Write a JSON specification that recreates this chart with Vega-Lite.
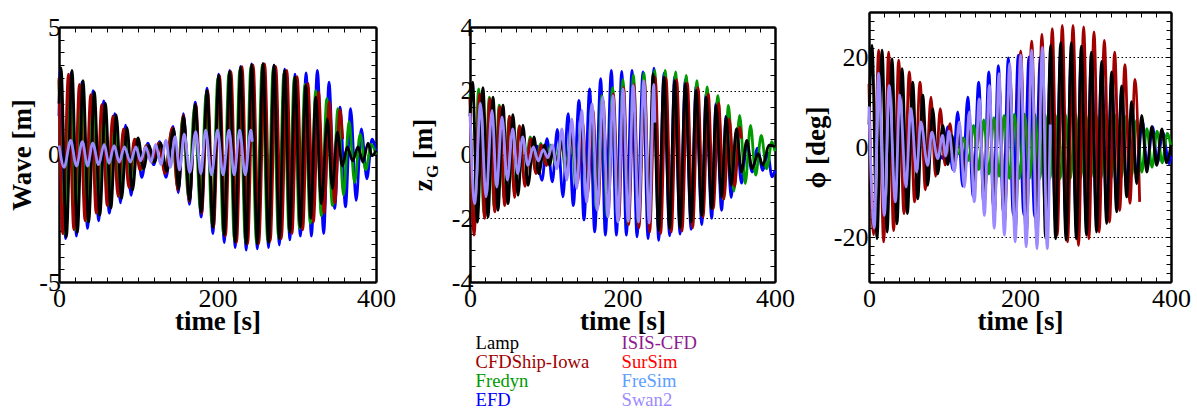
{
"$schema": "https://vega.github.io/schema/vega-lite/v6.json",
"padding": {"left": 8, "top": 11, "right": 5, "bottom": 0},
"bounds": "flush",
"spacing": 94,
"config": {
 "view": {"stroke": null},
 "font": "Liberation Serif",
 "axis": {"labelFont": "Liberation Serif", "labelFontSize": 26, "labelColor": "black", "titleFont": "Liberation Serif", "titleFontSize": 27, "titleFontWeight": "bold", "titleColor": "black", "tickColor": "black", "tickSize": -5, "tickWidth": 1, "domainColor": "black", "domainWidth": 2.5, "grid": false, "labelOverlap": false, "labelBound": false, "labelFlush": false}
},
"resolve": {"scale": {"color": "shared"}, "legend": {"color": "shared"}},
"datasets": {
"wave": [
{"s":"EFD","t":0,"v":1.5},{"s":"EFD","t":1.5,"v":3.3},{"s":"EFD","t":8.3,"v":-3.3},{"s":"EFD","t":15.2,"v":3.2},{"s":"EFD","t":22,"v":-3.2},{"s":"EFD","t":29,"v":2.85},{"s":"EFD","t":36,"v":-2.9},{"s":"EFD","t":43,"v":2.5},{"s":"EFD","t":50,"v":-2.6},{"s":"EFD","t":56.5,"v":2.1},{"s":"EFD","t":63.5,"v":-2.3},{"s":"EFD","t":70.5,"v":1.6},{"s":"EFD","t":77.5,"v":-1.9},{"s":"EFD","t":84,"v":1.15},{"s":"EFD","t":91,"v":-1.6},{"s":"EFD","t":97.5,"v":0.6},{"s":"EFD","t":104.5,"v":-0.9},{"s":"EFD","t":112,"v":0.45},{"s":"EFD","t":119.5,"v":-0.4},{"s":"EFD","t":127,"v":0.5},{"s":"EFD","t":135,"v":-0.9},{"s":"EFD","t":144,"v":1.1},{"s":"EFD","t":150.5,"v":-1.5},{"s":"EFD","t":157,"v":1.6},{"s":"EFD","t":164.5,"v":-1.95},{"s":"EFD","t":172,"v":2.05},{"s":"EFD","t":179.4,"v":-2.45},{"s":"EFD","t":186.8,"v":2.6},{"s":"EFD","t":194.2,"v":-3.1},{"s":"EFD","t":201.5,"v":3.15},{"s":"EFD","t":208.5,"v":-3.45},{"s":"EFD","t":215.4,"v":3.3},{"s":"EFD","t":222.3,"v":-3.65},{"s":"EFD","t":229.2,"v":3.45},{"s":"EFD","t":236.2,"v":-3.75},{"s":"EFD","t":243.1,"v":3.55},{"s":"EFD","t":250.2,"v":-3.7},{"s":"EFD","t":257.4,"v":3.56},{"s":"EFD","t":264.4,"v":-3.65},{"s":"EFD","t":271.3,"v":3.5},{"s":"EFD","t":278,"v":-3.55},{"s":"EFD","t":284.8,"v":3.35},{"s":"EFD","t":291.3,"v":-3.35},{"s":"EFD","t":297.8,"v":3.15},{"s":"EFD","t":304.5,"v":-3.2},{"s":"EFD","t":311.8,"v":3.2},{"s":"EFD","t":318.5,"v":-3.2},{"s":"EFD","t":326,"v":3.3},{"s":"EFD","t":334,"v":-3.1},{"s":"EFD","t":340.7,"v":2.84},{"s":"EFD","t":347.8,"v":-2.12},{"s":"EFD","t":354.6,"v":1.86},{"s":"EFD","t":361.5,"v":-2.05},{"s":"EFD","t":368,"v":1.8},{"s":"EFD","t":375,"v":-1.8},{"s":"EFD","t":381.5,"v":1.0},{"s":"EFD","t":388.5,"v":-0.95},{"s":"EFD","t":395,"v":0.6},{"s":"EFD","t":400,"v":0.1},
{"s":"Fredyn","t":0,"v":2.9},{"s":"Fredyn","t":6.3,"v":-3.1},{"s":"Fredyn","t":13.4,"v":3.0},{"s":"Fredyn","t":20.2,"v":-2.95},{"s":"Fredyn","t":27.3,"v":2.7},{"s":"Fredyn","t":34.4,"v":-2.6},{"s":"Fredyn","t":41.6,"v":2.3},{"s":"Fredyn","t":48.5,"v":-2.25},{"s":"Fredyn","t":55.5,"v":1.85},{"s":"Fredyn","t":62.4,"v":-1.95},{"s":"Fredyn","t":69.3,"v":1.45},{"s":"Fredyn","t":76,"v":-1.6},{"s":"Fredyn","t":82.8,"v":0.95},{"s":"Fredyn","t":89.7,"v":-1.2},{"s":"Fredyn","t":96.7,"v":0.6},{"s":"Fredyn","t":103.7,"v":-0.6},{"s":"Fredyn","t":111,"v":0.35},{"s":"Fredyn","t":118,"v":-0.3},{"s":"Fredyn","t":126,"v":0.45},{"s":"Fredyn","t":134,"v":-0.6},{"s":"Fredyn","t":142.5,"v":0.95},{"s":"Fredyn","t":149.5,"v":-1.25},{"s":"Fredyn","t":156,"v":1.45},{"s":"Fredyn","t":163.5,"v":-1.7},{"s":"Fredyn","t":171,"v":1.9},{"s":"Fredyn","t":178.4,"v":-2.15},{"s":"Fredyn","t":185.8,"v":2.4},{"s":"Fredyn","t":193.2,"v":-2.75},{"s":"Fredyn","t":200.5,"v":3.0},{"s":"Fredyn","t":207.5,"v":-3.1},{"s":"Fredyn","t":214.4,"v":3.2},{"s":"Fredyn","t":221.3,"v":-3.35},{"s":"Fredyn","t":228.2,"v":3.35},{"s":"Fredyn","t":235.2,"v":-3.4},{"s":"Fredyn","t":242.1,"v":3.45},{"s":"Fredyn","t":249.2,"v":-3.45},{"s":"Fredyn","t":256.4,"v":3.5},{"s":"Fredyn","t":263.4,"v":-3.4},{"s":"Fredyn","t":270.3,"v":3.4},{"s":"Fredyn","t":277,"v":-3.25},{"s":"Fredyn","t":283.8,"v":3.2},{"s":"Fredyn","t":290.3,"v":-3.0},{"s":"Fredyn","t":296.8,"v":3.0},{"s":"Fredyn","t":303.5,"v":-2.9},{"s":"Fredyn","t":310.3,"v":2.75},{"s":"Fredyn","t":317,"v":-2.7},{"s":"Fredyn","t":324,"v":2.5},{"s":"Fredyn","t":331,"v":-2.4},{"s":"Fredyn","t":338,"v":2.2},{"s":"Fredyn","t":345,"v":-2.0},{"s":"Fredyn","t":352,"v":1.8},{"s":"Fredyn","t":359,"v":-1.6},{"s":"Fredyn","t":366,"v":1.3},{"s":"Fredyn","t":373,"v":-1.1},{"s":"Fredyn","t":380,"v":0.8},{"s":"Fredyn","t":387,"v":-0.6},{"s":"Fredyn","t":394,"v":0.4},{"s":"Fredyn","t":400,"v":0.0},
{"s":"CFDShip-Iowa","t":0,"v":3.0},{"s":"CFDShip-Iowa","t":4.8,"v":-3.1},{"s":"CFDShip-Iowa","t":11.9,"v":3.15},{"s":"CFDShip-Iowa","t":18.7,"v":-2.95},{"s":"CFDShip-Iowa","t":25.8,"v":2.75},{"s":"CFDShip-Iowa","t":32.9,"v":-2.6},{"s":"CFDShip-Iowa","t":40.1,"v":2.35},{"s":"CFDShip-Iowa","t":47,"v":-2.3},{"s":"CFDShip-Iowa","t":54,"v":1.95},{"s":"CFDShip-Iowa","t":60.9,"v":-2.0},{"s":"CFDShip-Iowa","t":67.8,"v":1.5},{"s":"CFDShip-Iowa","t":74.5,"v":-1.65},{"s":"CFDShip-Iowa","t":81.3,"v":1.0},{"s":"CFDShip-Iowa","t":88.2,"v":-1.3},{"s":"CFDShip-Iowa","t":95.2,"v":0.6},{"s":"CFDShip-Iowa","t":102.2,"v":-0.6},{"s":"CFDShip-Iowa","t":110,"v":0.35},{"s":"CFDShip-Iowa","t":117.5,"v":-0.3},{"s":"CFDShip-Iowa","t":125.5,"v":0.45},{"s":"CFDShip-Iowa","t":134,"v":-0.75},{"s":"CFDShip-Iowa","t":143,"v":1.05},{"s":"CFDShip-Iowa","t":150,"v":-1.4},{"s":"CFDShip-Iowa","t":157,"v":1.55},{"s":"CFDShip-Iowa","t":164.5,"v":-1.85},{"s":"CFDShip-Iowa","t":172.5,"v":1.95},{"s":"CFDShip-Iowa","t":180,"v":-2.3},{"s":"CFDShip-Iowa","t":187.5,"v":2.5},{"s":"CFDShip-Iowa","t":195,"v":-2.85},{"s":"CFDShip-Iowa","t":202.5,"v":3.1},{"s":"CFDShip-Iowa","t":210,"v":-3.2},{"s":"CFDShip-Iowa","t":217,"v":3.25},{"s":"CFDShip-Iowa","t":224,"v":-3.45},{"s":"CFDShip-Iowa","t":231,"v":3.45},{"s":"CFDShip-Iowa","t":238,"v":-3.5},{"s":"CFDShip-Iowa","t":245,"v":3.5},{"s":"CFDShip-Iowa","t":252,"v":-3.5},{"s":"CFDShip-Iowa","t":259.5,"v":3.55},{"s":"CFDShip-Iowa","t":266.5,"v":-3.4},{"s":"CFDShip-Iowa","t":273.5,"v":3.45},{"s":"CFDShip-Iowa","t":280.5,"v":-3.3},{"s":"CFDShip-Iowa","t":287.5,"v":3.3},{"s":"CFDShip-Iowa","t":294,"v":-3.1},{"s":"CFDShip-Iowa","t":300.5,"v":3.05},{"s":"CFDShip-Iowa","t":307.5,"v":-2.95},{"s":"CFDShip-Iowa","t":314,"v":2.8},{"s":"CFDShip-Iowa","t":321,"v":-2.65},{"s":"CFDShip-Iowa","t":327.5,"v":2.45},{"s":"CFDShip-Iowa","t":334.5,"v":-2.3},{"s":"CFDShip-Iowa","t":341,"v":2.06},{"s":"CFDShip-Iowa","t":348,"v":-1.9},{"s":"CFDShip-Iowa","t":354.5,"v":1.75},{"s":"CFDShip-Iowa","t":358,"v":0.6},
{"s":"Lamp","t":0,"v":2.0},{"s":"Lamp","t":2.5,"v":3.4},{"s":"Lamp","t":9.3,"v":-3.24},{"s":"Lamp","t":16.4,"v":3.3},{"s":"Lamp","t":23.2,"v":-3.05},{"s":"Lamp","t":30.3,"v":2.9},{"s":"Lamp","t":37.4,"v":-2.65},{"s":"Lamp","t":44.6,"v":2.45},{"s":"Lamp","t":51.5,"v":-2.38},{"s":"Lamp","t":58.5,"v":2.0},{"s":"Lamp","t":65.4,"v":-2.1},{"s":"Lamp","t":72.3,"v":1.55},{"s":"Lamp","t":79,"v":-1.73},{"s":"Lamp","t":85.8,"v":1.05},{"s":"Lamp","t":92.7,"v":-1.4},{"s":"Lamp","t":99.7,"v":0.65},{"s":"Lamp","t":106.7,"v":-0.55},{"s":"Lamp","t":113.5,"v":0.35},{"s":"Lamp","t":120.5,"v":-0.3},{"s":"Lamp","t":128,"v":0.45},{"s":"Lamp","t":136,"v":-0.65},{"s":"Lamp","t":144.7,"v":1.0},{"s":"Lamp","t":151,"v":-1.35},{"s":"Lamp","t":157.3,"v":1.5},{"s":"Lamp","t":164.7,"v":-1.8},{"s":"Lamp","t":172,"v":1.95},{"s":"Lamp","t":179.4,"v":-2.25},{"s":"Lamp","t":186.8,"v":2.5},{"s":"Lamp","t":194.2,"v":-2.85},{"s":"Lamp","t":201.5,"v":3.1},{"s":"Lamp","t":208.5,"v":-3.16},{"s":"Lamp","t":215.4,"v":3.26},{"s":"Lamp","t":222.3,"v":-3.43},{"s":"Lamp","t":229.2,"v":3.43},{"s":"Lamp","t":236.2,"v":-3.5},{"s":"Lamp","t":243.1,"v":3.52},{"s":"Lamp","t":250.2,"v":-3.5},{"s":"Lamp","t":257.4,"v":3.56},{"s":"Lamp","t":264.4,"v":-3.45},{"s":"Lamp","t":271.3,"v":3.5},{"s":"Lamp","t":278,"v":-3.3},{"s":"Lamp","t":284.8,"v":3.3},{"s":"Lamp","t":291.3,"v":-3.05},{"s":"Lamp","t":297.8,"v":3.04},{"s":"Lamp","t":304.5,"v":-2.85},{"s":"Lamp","t":311.3,"v":2.71},{"s":"Lamp","t":317.6,"v":-2.5},{"s":"Lamp","t":323.9,"v":2.25},{"s":"Lamp","t":331.2,"v":-1.93},{"s":"Lamp","t":338.6,"v":1.4},{"s":"Lamp","t":345,"v":-1.34},{"s":"Lamp","t":351.2,"v":0.88},{"s":"Lamp","t":357.5,"v":-0.45},{"s":"Lamp","t":363.8,"v":0.3},{"s":"Lamp","t":370.5,"v":-0.25},{"s":"Lamp","t":377.3,"v":0.3},{"s":"Lamp","t":383.6,"v":-0.3},{"s":"Lamp","t":389.9,"v":0.45},{"s":"Lamp","t":395,"v":-0.05},{"s":"Lamp","t":400,"v":0.15},
{"s":"Swan2","t":0,"v":0.35},{"s":"Swan2","t":6.5,"v":-0.5},{"s":"Swan2","t":14.7,"v":0.55},{"s":"Swan2","t":22,"v":-0.45},{"s":"Swan2","t":29.5,"v":0.5},{"s":"Swan2","t":36,"v":-0.45},{"s":"Swan2","t":42.5,"v":0.45},{"s":"Swan2","t":50,"v":-0.4},{"s":"Swan2","t":57,"v":0.4},{"s":"Swan2","t":63,"v":-0.35},{"s":"Swan2","t":69.5,"v":0.35},{"s":"Swan2","t":76,"v":-0.3},{"s":"Swan2","t":82.5,"v":0.3},{"s":"Swan2","t":90,"v":-0.3},{"s":"Swan2","t":97,"v":0.3},{"s":"Swan2","t":103,"v":-0.25},{"s":"Swan2","t":109.5,"v":0.3},{"s":"Swan2","t":116,"v":-0.3},{"s":"Swan2","t":122,"v":0.4},{"s":"Swan2","t":128.5,"v":-0.4},{"s":"Swan2","t":135,"v":0.55},{"s":"Swan2","t":140.5,"v":-0.5},{"s":"Swan2","t":146.5,"v":0.7},{"s":"Swan2","t":152,"v":-0.6},{"s":"Swan2","t":158,"v":0.8},{"s":"Swan2","t":165,"v":-0.7},{"s":"Swan2","t":172.5,"v":0.9},{"s":"Swan2","t":179,"v":-0.75},{"s":"Swan2","t":185,"v":0.95},{"s":"Swan2","t":192.5,"v":-0.8},{"s":"Swan2","t":200,"v":0.95},{"s":"Swan2","t":207,"v":-0.8},{"s":"Swan2","t":214.5,"v":0.95},{"s":"Swan2","t":221,"v":-0.8},{"s":"Swan2","t":228,"v":0.95},{"s":"Swan2","t":235,"v":-0.8},{"s":"Swan2","t":242,"v":0.95},{"s":"Swan2","t":244,"v":0.5}
],
"zg": [
{"s":"EFD","t":88,"v":0.3},{"s":"EFD","t":94.4,"v":-0.81},{"s":"EFD","t":101,"v":0.5},{"s":"EFD","t":108,"v":-0.86},{"s":"EFD","t":114.5,"v":0.79},{"s":"EFD","t":122,"v":-1.33},{"s":"EFD","t":128.5,"v":1.28},{"s":"EFD","t":135.5,"v":-1.6},{"s":"EFD","t":142.9,"v":1.7},{"s":"EFD","t":149.5,"v":-2.06},{"s":"EFD","t":156.9,"v":2.06},{"s":"EFD","t":163.5,"v":-2.43},{"s":"EFD","t":171.4,"v":2.38},{"s":"EFD","t":177.5,"v":-2.53},{"s":"EFD","t":185.4,"v":2.64},{"s":"EFD","t":192,"v":-2.53},{"s":"EFD","t":199,"v":2.61},{"s":"EFD","t":205,"v":-2.53},{"s":"EFD","t":212.5,"v":2.64},{"s":"EFD","t":219,"v":-2.58},{"s":"EFD","t":226.9,"v":2.59},{"s":"EFD","t":233.5,"v":-2.64},{"s":"EFD","t":241.3,"v":2.71},{"s":"EFD","t":247.4,"v":-2.69},{"s":"EFD","t":254.4,"v":2.55},{"s":"EFD","t":261.8,"v":-2.55},{"s":"EFD","t":268.4,"v":2.45},{"s":"EFD","t":275.5,"v":-2.5},{"s":"EFD","t":282.4,"v":2.35},{"s":"EFD","t":290,"v":-2.35},{"s":"EFD","t":296.5,"v":2.15},{"s":"EFD","t":304,"v":-2.2},{"s":"EFD","t":309.6,"v":1.9},{"s":"EFD","t":317,"v":-2.0},{"s":"EFD","t":322.7,"v":1.6},{"s":"EFD","t":330,"v":-1.75},{"s":"EFD","t":335.9,"v":1.2},{"s":"EFD","t":342.5,"v":-1.35},{"s":"EFD","t":349.5,"v":0.75},{"s":"EFD","t":356,"v":-0.9},{"s":"EFD","t":363,"v":0.3},{"s":"EFD","t":370,"v":-0.55},{"s":"EFD","t":377,"v":0.2},{"s":"EFD","t":384,"v":-0.5},{"s":"EFD","t":390.5,"v":0.05},{"s":"EFD","t":396,"v":-0.7},{"s":"EFD","t":400,"v":-0.5},
{"s":"Fredyn","t":0,"v":1.9},{"s":"Fredyn","t":4.5,"v":-2.05},{"s":"Fredyn","t":11.4,"v":2.06},{"s":"Fredyn","t":18.5,"v":-1.85},{"s":"Fredyn","t":25.4,"v":1.8},{"s":"Fredyn","t":31.8,"v":-1.65},{"s":"Fredyn","t":38.3,"v":1.55},{"s":"Fredyn","t":45,"v":-1.4},{"s":"Fredyn","t":51.4,"v":1.2},{"s":"Fredyn","t":58,"v":-1.1},{"s":"Fredyn","t":64.5,"v":0.9},{"s":"Fredyn","t":71.5,"v":-0.8},{"s":"Fredyn","t":79,"v":0.55},{"s":"Fredyn","t":86,"v":-0.5},{"s":"Fredyn","t":93,"v":0.35},{"s":"Fredyn","t":99.5,"v":-0.3},{"s":"Fredyn","t":106,"v":0.3},{"s":"Fredyn","t":112.5,"v":-0.35},{"s":"Fredyn","t":119,"v":0.45},{"s":"Fredyn","t":126,"v":-0.55},{"s":"Fredyn","t":132.5,"v":0.75},{"s":"Fredyn","t":139,"v":-0.95},{"s":"Fredyn","t":146,"v":1.15},{"s":"Fredyn","t":153,"v":-1.35},{"s":"Fredyn","t":159.5,"v":1.5},{"s":"Fredyn","t":166,"v":-1.7},{"s":"Fredyn","t":173,"v":1.85},{"s":"Fredyn","t":180,"v":-1.95},{"s":"Fredyn","t":187,"v":2.1},{"s":"Fredyn","t":194,"v":-2.1},{"s":"Fredyn","t":200.5,"v":2.35},{"s":"Fredyn","t":207.5,"v":-2.2},{"s":"Fredyn","t":214.3,"v":2.5},{"s":"Fredyn","t":221,"v":-2.25},{"s":"Fredyn","t":228.2,"v":2.55},{"s":"Fredyn","t":235,"v":-2.25},{"s":"Fredyn","t":242.2,"v":2.64},{"s":"Fredyn","t":249,"v":-2.3},{"s":"Fredyn","t":256,"v":2.64},{"s":"Fredyn","t":263,"v":-2.3},{"s":"Fredyn","t":269.7,"v":2.59},{"s":"Fredyn","t":276.5,"v":-2.25},{"s":"Fredyn","t":283.6,"v":2.48},{"s":"Fredyn","t":290.5,"v":-2.1},{"s":"Fredyn","t":297.6,"v":2.32},{"s":"Fredyn","t":304,"v":-1.9},{"s":"Fredyn","t":311,"v":2.12},{"s":"Fredyn","t":318,"v":-1.7},{"s":"Fredyn","t":325,"v":1.85},{"s":"Fredyn","t":332,"v":-1.4},{"s":"Fredyn","t":339,"v":1.54},{"s":"Fredyn","t":346,"v":-1.15},{"s":"Fredyn","t":353.6,"v":1.23},{"s":"Fredyn","t":361,"v":-0.91},{"s":"Fredyn","t":367.9,"v":0.91},{"s":"Fredyn","t":374.6,"v":-0.65},{"s":"Fredyn","t":382,"v":0.6},{"s":"Fredyn","t":389,"v":-0.45},{"s":"Fredyn","t":396,"v":0.4},{"s":"Fredyn","t":400,"v":0.1},
{"s":"CFDShip-Iowa","t":0,"v":1.8},{"s":"CFDShip-Iowa","t":5.2,"v":-2.53},{"s":"CFDShip-Iowa","t":12.7,"v":1.9},{"s":"CFDShip-Iowa","t":19.2,"v":-2.0},{"s":"CFDShip-Iowa","t":26,"v":1.75},{"s":"CFDShip-Iowa","t":32.5,"v":-1.8},{"s":"CFDShip-Iowa","t":39,"v":1.5},{"s":"CFDShip-Iowa","t":45.5,"v":-1.6},{"s":"CFDShip-Iowa","t":52,"v":1.2},{"s":"CFDShip-Iowa","t":58.5,"v":-1.35},{"s":"CFDShip-Iowa","t":65,"v":0.9},{"s":"CFDShip-Iowa","t":72,"v":-1.0},{"s":"CFDShip-Iowa","t":79.5,"v":0.5},{"s":"CFDShip-Iowa","t":86.5,"v":-0.6},{"s":"CFDShip-Iowa","t":93.5,"v":0.3},{"s":"CFDShip-Iowa","t":100,"v":-0.35},{"s":"CFDShip-Iowa","t":107,"v":0.2},{"s":"CFDShip-Iowa","t":114,"v":-0.3},{"s":"CFDShip-Iowa","t":120.5,"v":0.35},{"s":"CFDShip-Iowa","t":127,"v":-0.5},{"s":"CFDShip-Iowa","t":134,"v":0.65},{"s":"CFDShip-Iowa","t":141,"v":-0.9},{"s":"CFDShip-Iowa","t":147.5,"v":1.05},{"s":"CFDShip-Iowa","t":154,"v":-1.3},{"s":"CFDShip-Iowa","t":161,"v":1.4},{"s":"CFDShip-Iowa","t":168,"v":-1.6},{"s":"CFDShip-Iowa","t":174.5,"v":1.7},{"s":"CFDShip-Iowa","t":181,"v":-1.85},{"s":"CFDShip-Iowa","t":188,"v":1.9},{"s":"CFDShip-Iowa","t":195,"v":-2.05},{"s":"CFDShip-Iowa","t":201.5,"v":2.1},{"s":"CFDShip-Iowa","t":208,"v":-2.2},{"s":"CFDShip-Iowa","t":215,"v":2.2},{"s":"CFDShip-Iowa","t":221.5,"v":-2.3},{"s":"CFDShip-Iowa","t":228.8,"v":2.3},{"s":"CFDShip-Iowa","t":235.6,"v":-2.43},{"s":"CFDShip-Iowa","t":242.8,"v":2.43},{"s":"CFDShip-Iowa","t":250,"v":-2.48},{"s":"CFDShip-Iowa","t":257,"v":2.4},{"s":"CFDShip-Iowa","t":264,"v":-2.43},{"s":"CFDShip-Iowa","t":271,"v":2.35},{"s":"CFDShip-Iowa","t":278,"v":-2.4},{"s":"CFDShip-Iowa","t":285,"v":2.25},{"s":"CFDShip-Iowa","t":292,"v":-2.3},{"s":"CFDShip-Iowa","t":299,"v":2.1},{"s":"CFDShip-Iowa","t":305.6,"v":-1.96},{"s":"CFDShip-Iowa","t":312.5,"v":1.9},{"s":"CFDShip-Iowa","t":319,"v":-1.7},{"s":"CFDShip-Iowa","t":326,"v":1.6},{"s":"CFDShip-Iowa","t":333,"v":-1.4},{"s":"CFDShip-Iowa","t":340,"v":1.12},{"s":"CFDShip-Iowa","t":347,"v":-1.0},{"s":"CFDShip-Iowa","t":353.6,"v":0.86},{"s":"CFDShip-Iowa","t":356,"v":0.5},
{"s":"Lamp","t":0,"v":1.2},{"s":"Lamp","t":3.5,"v":2.27},{"s":"Lamp","t":9.6,"v":-2.12},{"s":"Lamp","t":17,"v":2.1},{"s":"Lamp","t":23.6,"v":-1.96},{"s":"Lamp","t":30.2,"v":1.8},{"s":"Lamp","t":36.7,"v":-1.75},{"s":"Lamp","t":43.3,"v":1.55},{"s":"Lamp","t":49.8,"v":-1.54},{"s":"Lamp","t":56.4,"v":1.25},{"s":"Lamp","t":63,"v":-1.28},{"s":"Lamp","t":69.5,"v":0.92},{"s":"Lamp","t":76,"v":-0.97},{"s":"Lamp","t":84,"v":0.55},{"s":"Lamp","t":90,"v":-0.6},{"s":"Lamp","t":98,"v":0.3},{"s":"Lamp","t":104.5,"v":-0.35},{"s":"Lamp","t":109,"v":0.2},{"s":"Lamp","t":114,"v":-0.3},{"s":"Lamp","t":120.5,"v":0.4},{"s":"Lamp","t":127,"v":-0.5},{"s":"Lamp","t":133.5,"v":0.7},{"s":"Lamp","t":140,"v":-0.8},{"s":"Lamp","t":146.5,"v":1.0},{"s":"Lamp","t":153,"v":-1.1},{"s":"Lamp","t":160,"v":1.3},{"s":"Lamp","t":167,"v":-1.4},{"s":"Lamp","t":174,"v":1.5},{"s":"Lamp","t":181,"v":-1.6},{"s":"Lamp","t":187.5,"v":1.7},{"s":"Lamp","t":194,"v":-1.8},{"s":"Lamp","t":200.7,"v":1.9},{"s":"Lamp","t":207.5,"v":-1.95},{"s":"Lamp","t":214,"v":2.05},{"s":"Lamp","t":221,"v":-2.0},{"s":"Lamp","t":228,"v":2.2},{"s":"Lamp","t":234.3,"v":-2.1},{"s":"Lamp","t":240,"v":2.53},{"s":"Lamp","t":247.4,"v":-2.38},{"s":"Lamp","t":254.4,"v":2.43},{"s":"Lamp","t":261.8,"v":-2.32},{"s":"Lamp","t":268.4,"v":2.32},{"s":"Lamp","t":275.5,"v":-2.3},{"s":"Lamp","t":282.4,"v":2.22},{"s":"Lamp","t":290,"v":-2.12},{"s":"Lamp","t":296.5,"v":2.01},{"s":"Lamp","t":304,"v":-1.91},{"s":"Lamp","t":309.6,"v":1.8},{"s":"Lamp","t":317,"v":-1.7},{"s":"Lamp","t":322.7,"v":1.54},{"s":"Lamp","t":330,"v":-1.33},{"s":"Lamp","t":335.9,"v":1.18},{"s":"Lamp","t":342.5,"v":-0.97},{"s":"Lamp","t":349.5,"v":0.81},{"s":"Lamp","t":356,"v":-0.55},{"s":"Lamp","t":363,"v":0.44},{"s":"Lamp","t":370,"v":-0.44},{"s":"Lamp","t":377.7,"v":0.03},{"s":"Lamp","t":384,"v":-0.34},{"s":"Lamp","t":392,"v":0.29},{"s":"Lamp","t":400,"v":0.25},
{"s":"Swan2","t":0,"v":1.3},{"s":"Swan2","t":6.1,"v":-1.54},{"s":"Swan2","t":13.7,"v":1.6},{"s":"Swan2","t":21,"v":-1.33},{"s":"Swan2","t":28.9,"v":1.38},{"s":"Swan2","t":35,"v":-1.02},{"s":"Swan2","t":42,"v":1.18},{"s":"Swan2","t":49,"v":-0.8},{"s":"Swan2","t":56,"v":0.8},{"s":"Swan2","t":62.5,"v":-0.6},{"s":"Swan2","t":69.1,"v":0.55},{"s":"Swan2","t":76,"v":-0.34},{"s":"Swan2","t":83,"v":0.24},{"s":"Swan2","t":89.5,"v":-0.2},{"s":"Swan2","t":96,"v":0.15},{"s":"Swan2","t":102,"v":-0.1},{"s":"Swan2","t":108,"v":0.3},{"s":"Swan2","t":114,"v":-0.45},{"s":"Swan2","t":120.5,"v":0.8},{"s":"Swan2","t":127,"v":-0.8},{"s":"Swan2","t":133.5,"v":1.12},{"s":"Swan2","t":140,"v":-1.07},{"s":"Swan2","t":146.5,"v":1.38},{"s":"Swan2","t":153,"v":-1.49},{"s":"Swan2","t":160,"v":1.59},{"s":"Swan2","t":167,"v":-1.75},{"s":"Swan2","t":174,"v":1.8},{"s":"Swan2","t":181,"v":-1.96},{"s":"Swan2","t":187.5,"v":1.85},{"s":"Swan2","t":194,"v":-2.12},{"s":"Swan2","t":200.7,"v":2.06},{"s":"Swan2","t":207.5,"v":-2.1},{"s":"Swan2","t":214,"v":2.17},{"s":"Swan2","t":221,"v":-2.12},{"s":"Swan2","t":228,"v":2.32},{"s":"Swan2","t":235,"v":-2.15},{"s":"Swan2","t":241,"v":2.2},{"s":"Swan2","t":242.5,"v":1.0}
],
"phi": [
{"s":"EFD","t":88,"v":0.5},{"s":"EFD","t":98,"v":-2.5},{"s":"EFD","t":104.5,"v":4.5},{"s":"EFD","t":111,"v":-5},{"s":"EFD","t":117.5,"v":7.8},{"s":"EFD","t":124,"v":-8.7},{"s":"EFD","t":130.8,"v":11.1},{"s":"EFD","t":138,"v":-11},{"s":"EFD","t":145.3,"v":14.4},{"s":"EFD","t":152,"v":-12.5},{"s":"EFD","t":158.7,"v":16.7},{"s":"EFD","t":165,"v":-13.5},{"s":"EFD","t":171.3,"v":18.1},{"s":"EFD","t":178,"v":-14.5},{"s":"EFD","t":184.5,"v":19.8},{"s":"EFD","t":191,"v":-15},{"s":"EFD","t":197.7,"v":20.4},{"s":"EFD","t":205,"v":-15},{"s":"EFD","t":211.9,"v":20},{"s":"EFD","t":219.5,"v":-15.5},{"s":"EFD","t":227,"v":20},{"s":"EFD","t":233.8,"v":-16},{"s":"EFD","t":240.6,"v":20},{"s":"EFD","t":247.2,"v":-17},{"s":"EFD","t":253.9,"v":21},{"s":"EFD","t":261,"v":-18},{"s":"EFD","t":268,"v":21},{"s":"EFD","t":274.6,"v":-18},{"s":"EFD","t":281.2,"v":20.5},{"s":"EFD","t":288,"v":-17.5},{"s":"EFD","t":294.5,"v":19.5},{"s":"EFD","t":301.4,"v":-16.5},{"s":"EFD","t":308.2,"v":17.5},{"s":"EFD","t":314.8,"v":-15},{"s":"EFD","t":321.4,"v":15},{"s":"EFD","t":328,"v":-12.5},{"s":"EFD","t":334.7,"v":12.5},{"s":"EFD","t":341.3,"v":-9.5},{"s":"EFD","t":347.9,"v":9},{"s":"EFD","t":354.5,"v":-6.5},{"s":"EFD","t":362,"v":5.9},{"s":"EFD","t":368.5,"v":-4.5},{"s":"EFD","t":375.5,"v":4.5},{"s":"EFD","t":382,"v":-3.5},{"s":"EFD","t":389,"v":3.3},{"s":"EFD","t":397.6,"v":-3.7},{"s":"EFD","t":400,"v":-2},
{"s":"Fredyn","t":110,"v":0.5},{"s":"Fredyn","t":118.5,"v":-1.5},{"s":"Fredyn","t":125,"v":2},{"s":"Fredyn","t":131.8,"v":-3},{"s":"Fredyn","t":138.5,"v":4.8},{"s":"Fredyn","t":145.3,"v":-5},{"s":"Fredyn","t":152,"v":6},{"s":"Fredyn","t":158.8,"v":-6},{"s":"Fredyn","t":165.5,"v":6.5},{"s":"Fredyn","t":172.3,"v":-6.5},{"s":"Fredyn","t":179,"v":7},{"s":"Fredyn","t":185.8,"v":-7},{"s":"Fredyn","t":192.5,"v":7.3},{"s":"Fredyn","t":199.3,"v":-7},{"s":"Fredyn","t":206,"v":7.3},{"s":"Fredyn","t":212.8,"v":-7},{"s":"Fredyn","t":219.5,"v":7.3},{"s":"Fredyn","t":226.3,"v":-7},{"s":"Fredyn","t":233,"v":7.3},{"s":"Fredyn","t":239.8,"v":-7},{"s":"Fredyn","t":246.5,"v":7.3},{"s":"Fredyn","t":253.3,"v":-7},{"s":"Fredyn","t":260,"v":7.3},{"s":"Fredyn","t":266.8,"v":-7},{"s":"Fredyn","t":273.5,"v":7.3},{"s":"Fredyn","t":280.3,"v":-7},{"s":"Fredyn","t":287,"v":7.3},{"s":"Fredyn","t":293.8,"v":-7},{"s":"Fredyn","t":300.5,"v":7.3},{"s":"Fredyn","t":307.3,"v":-7},{"s":"Fredyn","t":314,"v":7.3},{"s":"Fredyn","t":320.8,"v":-7},{"s":"Fredyn","t":327.5,"v":7.2},{"s":"Fredyn","t":334.3,"v":-6.8},{"s":"Fredyn","t":341,"v":7},{"s":"Fredyn","t":347.8,"v":-6.5},{"s":"Fredyn","t":354.5,"v":6},{"s":"Fredyn","t":361.3,"v":-5.6},{"s":"Fredyn","t":368,"v":4.1},{"s":"Fredyn","t":374.8,"v":-4.5},{"s":"Fredyn","t":381.5,"v":3.5},{"s":"Fredyn","t":388.3,"v":-3.5},{"s":"Fredyn","t":395,"v":3},{"s":"Fredyn","t":400,"v":0},
{"s":"CFDShip-Iowa","t":0,"v":14},{"s":"CFDShip-Iowa","t":6,"v":-19.5},{"s":"CFDShip-Iowa","t":12.8,"v":21.5},{"s":"CFDShip-Iowa","t":19.4,"v":-21.1},{"s":"CFDShip-Iowa","t":26,"v":21.1},{"s":"CFDShip-Iowa","t":32.6,"v":-18.6},{"s":"CFDShip-Iowa","t":39.3,"v":19.3},{"s":"CFDShip-Iowa","t":46.3,"v":-14.8},{"s":"CFDShip-Iowa","t":53.4,"v":16.7},{"s":"CFDShip-Iowa","t":60.4,"v":-12.2},{"s":"CFDShip-Iowa","t":67.5,"v":14.4},{"s":"CFDShip-Iowa","t":74.8,"v":-9.5},{"s":"CFDShip-Iowa","t":82.1,"v":11.1},{"s":"CFDShip-Iowa","t":88.2,"v":-6.5},{"s":"CFDShip-Iowa","t":94.4,"v":8.5},{"s":"CFDShip-Iowa","t":100.8,"v":-4},{"s":"CFDShip-Iowa","t":107.3,"v":5.2},{"s":"CFDShip-Iowa","t":113,"v":-4.5},{"s":"CFDShip-Iowa","t":119.7,"v":4},{"s":"CFDShip-Iowa","t":126.3,"v":-6},{"s":"CFDShip-Iowa","t":132.9,"v":6},{"s":"CFDShip-Iowa","t":139.5,"v":-9},{"s":"CFDShip-Iowa","t":146,"v":8.5},{"s":"CFDShip-Iowa","t":152.8,"v":-12},{"s":"CFDShip-Iowa","t":159.5,"v":11},{"s":"CFDShip-Iowa","t":165.9,"v":-14},{"s":"CFDShip-Iowa","t":172.2,"v":14},{"s":"CFDShip-Iowa","t":179.3,"v":-16},{"s":"CFDShip-Iowa","t":186.3,"v":17},{"s":"CFDShip-Iowa","t":193.6,"v":-17},{"s":"CFDShip-Iowa","t":200.9,"v":21.3},{"s":"CFDShip-Iowa","t":208.2,"v":-18},{"s":"CFDShip-Iowa","t":215.5,"v":23.5},{"s":"CFDShip-Iowa","t":222.5,"v":-18.5},{"s":"CFDShip-Iowa","t":229,"v":25},{"s":"CFDShip-Iowa","t":235.8,"v":-18.1},{"s":"CFDShip-Iowa","t":242.8,"v":26.3},{"s":"CFDShip-Iowa","t":249.4,"v":-19.6},{"s":"CFDShip-Iowa","t":256,"v":27},{"s":"CFDShip-Iowa","t":263,"v":-21.1},{"s":"CFDShip-Iowa","t":270.2,"v":27},{"s":"CFDShip-Iowa","t":277.5,"v":-21.9},{"s":"CFDShip-Iowa","t":284.3,"v":26.7},{"s":"CFDShip-Iowa","t":291.2,"v":-20.4},{"s":"CFDShip-Iowa","t":298,"v":25.6},{"s":"CFDShip-Iowa","t":304.8,"v":-18.9},{"s":"CFDShip-Iowa","t":311.7,"v":23.7},{"s":"CFDShip-Iowa","t":318.5,"v":-16.7},{"s":"CFDShip-Iowa","t":325.4,"v":21.1},{"s":"CFDShip-Iowa","t":332,"v":-14.1},{"s":"CFDShip-Iowa","t":339,"v":18.3},{"s":"CFDShip-Iowa","t":345.6,"v":-12.5},{"s":"CFDShip-Iowa","t":352.3,"v":15.0},{"s":"CFDShip-Iowa","t":358.5,"v":-12.2},
{"s":"Lamp","t":0,"v":5},{"s":"Lamp","t":4,"v":22.6},{"s":"Lamp","t":10.6,"v":-20.4},{"s":"Lamp","t":17.3,"v":21.5},{"s":"Lamp","t":24,"v":-18.9},{"s":"Lamp","t":30.5,"v":19.6},{"s":"Lamp","t":37,"v":-17.1},{"s":"Lamp","t":43.8,"v":17.4},{"s":"Lamp","t":50.8,"v":-14.8},{"s":"Lamp","t":57.9,"v":14.4},{"s":"Lamp","t":64.5,"v":-11.5},{"s":"Lamp","t":71.2,"v":11.5},{"s":"Lamp","t":77.8,"v":-8.5},{"s":"Lamp","t":84.4,"v":8.5},{"s":"Lamp","t":91,"v":-6},{"s":"Lamp","t":97.7,"v":4.8},{"s":"Lamp","t":104.3,"v":-3.9},{"s":"Lamp","t":110,"v":2.5},{"s":"Lamp","t":114,"v":-3},{"s":"Lamp","t":119.7,"v":4},{"s":"Lamp","t":126.3,"v":-6},{"s":"Lamp","t":132.9,"v":6},{"s":"Lamp","t":139.5,"v":-9},{"s":"Lamp","t":146,"v":8.5},{"s":"Lamp","t":152.8,"v":-12},{"s":"Lamp","t":159.5,"v":11},{"s":"Lamp","t":165.9,"v":-15},{"s":"Lamp","t":172.2,"v":13.5},{"s":"Lamp","t":179.3,"v":-17},{"s":"Lamp","t":186.3,"v":16},{"s":"Lamp","t":193.6,"v":-18.5},{"s":"Lamp","t":200.9,"v":18},{"s":"Lamp","t":208.2,"v":-19.5},{"s":"Lamp","t":215.5,"v":19.5},{"s":"Lamp","t":222.5,"v":-20},{"s":"Lamp","t":228.5,"v":20.5},{"s":"Lamp","t":233.8,"v":-20.2},{"s":"Lamp","t":240.6,"v":22.6},{"s":"Lamp","t":247.2,"v":-20.4},{"s":"Lamp","t":253.9,"v":23.2},{"s":"Lamp","t":261,"v":-20.7},{"s":"Lamp","t":268,"v":23.2},{"s":"Lamp","t":274.6,"v":-20.4},{"s":"Lamp","t":281.2,"v":22.4},{"s":"Lamp","t":288,"v":-19.6},{"s":"Lamp","t":294.5,"v":21.1},{"s":"Lamp","t":301.4,"v":-18.9},{"s":"Lamp","t":308.2,"v":19},{"s":"Lamp","t":314.8,"v":-17},{"s":"Lamp","t":321.4,"v":16.7},{"s":"Lamp","t":328,"v":-14.4},{"s":"Lamp","t":334.7,"v":13.6},{"s":"Lamp","t":341.3,"v":-11.1},{"s":"Lamp","t":347.9,"v":10.1},{"s":"Lamp","t":354.5,"v":-8.2},{"s":"Lamp","t":361.2,"v":7},{"s":"Lamp","t":368,"v":-5.6},{"s":"Lamp","t":374.5,"v":4.5},{"s":"Lamp","t":381,"v":-4.1},{"s":"Lamp","t":388,"v":4},{"s":"Lamp","t":394,"v":-3.5},{"s":"Lamp","t":400,"v":0.5},
{"s":"Swan2","t":0,"v":9},{"s":"Swan2","t":7,"v":-18},{"s":"Swan2","t":12.6,"v":16.4},{"s":"Swan2","t":20.3,"v":-15.2},{"s":"Swan2","t":26.7,"v":13.7},{"s":"Swan2","t":34.9,"v":-12.2},{"s":"Swan2","t":40.8,"v":11.5},{"s":"Swan2","t":49,"v":-8.9},{"s":"Swan2","t":55.4,"v":8.6},{"s":"Swan2","t":63.1,"v":-5.6},{"s":"Swan2","t":68.6,"v":5.6},{"s":"Swan2","t":77.7,"v":-4.1},{"s":"Swan2","t":83.2,"v":3.3},{"s":"Swan2","t":91,"v":-2.6},{"s":"Swan2","t":97.4,"v":2.6},{"s":"Swan2","t":101.5,"v":-2},{"s":"Swan2","t":106,"v":3.5},{"s":"Swan2","t":113,"v":-5.5},{"s":"Swan2","t":119.7,"v":5.6},{"s":"Swan2","t":126.3,"v":-8.9},{"s":"Swan2","t":132.9,"v":7.8},{"s":"Swan2","t":139.5,"v":-12.2},{"s":"Swan2","t":146,"v":10.7},{"s":"Swan2","t":152.8,"v":-15.2},{"s":"Swan2","t":159.5,"v":13.7},{"s":"Swan2","t":165.9,"v":-18.1},{"s":"Swan2","t":172.2,"v":16.3},{"s":"Swan2","t":179.3,"v":-19.6},{"s":"Swan2","t":186.3,"v":18.5},{"s":"Swan2","t":193.6,"v":-21.1},{"s":"Swan2","t":200.9,"v":20.4},{"s":"Swan2","t":208.2,"v":-22.2},{"s":"Swan2","t":215.5,"v":21.5},{"s":"Swan2","t":222.5,"v":-22.6},{"s":"Swan2","t":229.6,"v":22.2},{"s":"Swan2","t":236,"v":-22.6},{"s":"Swan2","t":240,"v":5}
]
},
"hconcat": [
{
 "width": 317, "height": 270,
 "data": {"name": "wave"},
 "layer": [
  {"transform": [{"filter": "datum.s === 'Lamp'"}], "mark": {"type": "line", "opacity": 0},
   "encoding": {
    "x": {"field": "t", "type": "quantitative", "scale": {"domain": [0, 400], "nice": false, "zero": false}, "axis": null},
    "y": {"field": "v", "type": "quantitative", "scale": {"domain": [-5, 5], "range": [270, 15], "nice": false, "zero": false},
      "axis": {"orient": "left", "values": [0], "grid": true, "gridColor": "black", "gridDash": [1.5, 2.5], "gridWidth": 1, "domain": false, "ticks": false, "labels": false, "title": null}}
   }},
  {"mark": {"type": "line", "strokeWidth": 2.8, "interpolate": "monotone"},
   "encoding": {
    "x": {"field": "t", "type": "quantitative", "scale": {"domain": [0, 400], "nice": false, "zero": false},
      "axis": {"orient": "bottom", "values": [0,20,40,60,80,100,120,140,160,180,200,220,240,260,280,300,320,340,360,380,400], "labelExpr": "datum.value % 200 === 0 ? '' + datum.value : ''", "labelFontSize": {"condition": {"test": "datum.value % 200 === 0", "value": 26}, "value": 0}, "labelPadding": 8, "title": "time [s]", "titlePadding": -3}},
    "y": {"field": "v", "type": "quantitative", "scale": {"domain": [-5, 5], "range": [270, 15], "nice": false, "zero": false},
      "axis": {"orient": "left", "values": [-5,-4.5,-4,-3.5,-3,-2.5,-2,-1.5,-1,-0.5,0,0.5,1,1.5,2,2.5,3,3.5,4,4.5,5], "labelExpr": "datum.value % 5 === 0 ? '' + datum.value : ''", "labelFontSize": {"condition": {"test": "datum.value % 5 === 0", "value": 26}, "value": 0}, "labelPadding": 3.5, "title": "Wave [m]", "titlePadding": 2}},
    "color": {"field": "s", "type": "nominal",
      "scale": {"domain": ["Lamp","CFDShip-Iowa","Fredyn","EFD","ISIS-CFD","SurSim","FreSim","Swan2"], "range": ["#000000","#a00000","#009a00","#0000ff","#8e1a8e","#ff0000","#5c9dff","#9d8aff"]},
      "legend": {"orient": "none", "legendX": 398, "legendY": 322, "title": null, "columns": 2, "columnPadding": 13, "rowPadding": 0, "padding": 0, "labelFont": "Liberation Serif", "labelFontSize": 18.6, "labelOffset": 0, "symbolSize": 0, "symbolStrokeWidth": 0, "symbolOpacity": 0, "labelLimit": 300, "encode": {"labels": {"update": {"fill": {"scale": "color", "field": "value"}}}}}}
   }},
  {"transform": [{"filter": "datum.s === 'Lamp'"}], "mark": {"type": "line", "opacity": 0},
   "encoding": {
    "x": {"field": "t", "type": "quantitative", "scale": {"domain": [0, 400], "nice": false, "zero": false},
      "axis": {"orient": "top", "offset": -15, "values": [0,20,40,60,80,100,120,140,160,180,200,220,240,260,280,300,320,340,360,380,400], "labels": false, "title": null}},
    "y": {"field": "v", "type": "quantitative", "scale": {"domain": [-5, 5], "range": [270, 15], "nice": false, "zero": false},
      "axis": {"orient": "right", "values": [-5,-4.5,-4,-3.5,-3,-2.5,-2,-1.5,-1,-0.5,0,0.5,1,1.5,2,2.5,3,3.5,4,4.5,5], "labels": false, "title": null}}
   }}
 ],
 "resolve": {"axis": {"x": "independent", "y": "independent"}}
},
{
 "width": 305, "height": 270,
 "data": {"name": "zg"},
 "layer": [
  {"transform": [{"filter": "datum.s === 'Lamp'"}], "mark": {"type": "line", "opacity": 0},
   "encoding": {
    "x": {"field": "t", "type": "quantitative", "scale": {"domain": [0, 400], "nice": false, "zero": false}, "axis": null},
    "y": {"field": "v", "type": "quantitative", "scale": {"domain": [-4, 4], "range": [270, 15], "nice": false, "zero": false},
      "axis": {"orient": "left", "values": [-2, 0, 2], "grid": true, "gridColor": "black", "gridDash": [1.5, 2.5], "gridWidth": 1, "domain": false, "ticks": false, "labels": false, "title": "G", "titleFontSize": 17, "titleX": -37.5, "titleY": 159, "titleAngle": 270, "titleAlign": "center", "titleBaseline": "middle"}}
   }},
  {"mark": {"type": "line", "strokeWidth": 2.8, "interpolate": "monotone"},
   "encoding": {
    "x": {"field": "t", "type": "quantitative", "scale": {"domain": [0, 400], "nice": false, "zero": false},
      "axis": {"orient": "bottom", "values": [0,20,40,60,80,100,120,140,160,180,200,220,240,260,280,300,320,340,360,380,400], "labelExpr": "datum.value % 200 === 0 ? '' + datum.value : ''", "labelFontSize": {"condition": {"test": "datum.value % 200 === 0", "value": 26}, "value": 0}, "labelPadding": 8, "title": "time [s]", "titlePadding": -3}},
    "y": {"field": "v", "type": "quantitative", "scale": {"domain": [-4, 4], "range": [270, 15], "nice": false, "zero": false},
      "axis": {"orient": "left", "values": [-4,-3.5,-3,-2.5,-2,-1.5,-1,-0.5,0,0.5,1,1.5,2,2.5,3,3.5,4], "labelExpr": "datum.value % 2 === 0 ? '' + datum.value : ''", "labelFontSize": {"condition": {"test": "datum.value % 2 === 0", "value": 26}, "value": 0}, "labelPadding": 2, "title": "z\u00a0\u00a0\u00a0[m]", "titlePadding": 14}},
    "color": {"field": "s", "type": "nominal",
      "scale": {"domain": ["Lamp","CFDShip-Iowa","Fredyn","EFD","ISIS-CFD","SurSim","FreSim","Swan2"], "range": ["#000000","#a00000","#009a00","#0000ff","#8e1a8e","#ff0000","#5c9dff","#9d8aff"]},
      "legend": {"orient": "none", "legendX": 398, "legendY": 322, "title": null, "columns": 2, "columnPadding": 13, "rowPadding": 0, "padding": 0, "labelFont": "Liberation Serif", "labelFontSize": 18.6, "labelOffset": 0, "symbolSize": 0, "symbolStrokeWidth": 0, "symbolOpacity": 0, "labelLimit": 300, "encode": {"labels": {"update": {"fill": {"scale": "color", "field": "value"}}}}}}
   }},
  {"transform": [{"filter": "datum.s === 'Lamp'"}], "mark": {"type": "line", "opacity": 0},
   "encoding": {
    "x": {"field": "t", "type": "quantitative", "scale": {"domain": [0, 400], "nice": false, "zero": false},
      "axis": {"orient": "top", "offset": -15, "values": [0,20,40,60,80,100,120,140,160,180,200,220,240,260,280,300,320,340,360,380,400], "labels": false, "title": null}},
    "y": {"field": "v", "type": "quantitative", "scale": {"domain": [-4, 4], "range": [270, 15], "nice": false, "zero": false},
      "axis": {"orient": "right", "values": [-4,-3.5,-3,-2.5,-2,-1.5,-1,-0.5,0,0.5,1,1.5,2,2.5,3,3.5,4], "labels": false, "title": null}}
   }}
 ],
 "resolve": {"axis": {"x": "independent", "y": "independent"}}
},
{
 "width": 302, "height": 270,
 "data": {"name": "phi"},
 "layer": [
  {"transform": [{"filter": "datum.s === 'Lamp'"}], "mark": {"type": "line", "opacity": 0},
   "encoding": {
    "x": {"field": "t", "type": "quantitative", "scale": {"domain": [0, 400], "nice": false, "zero": false}, "axis": null},
    "y": {"field": "v", "type": "quantitative", "scale": {"domain": [-30, 30], "nice": false, "zero": false},
      "axis": {"orient": "left", "values": [-20, 0, 20], "grid": true, "gridColor": "black", "gridDash": [1.5, 2.5], "gridWidth": 1, "domain": false, "ticks": false, "labels": false, "title": null}}
   }},
  {"mark": {"type": "line", "strokeWidth": 2.8, "interpolate": "monotone"},
   "encoding": {
    "x": {"field": "t", "type": "quantitative", "scale": {"domain": [0, 400], "nice": false, "zero": false},
      "axis": {"orient": "bottom", "values": [0,20,40,60,80,100,120,140,160,180,200,220,240,260,280,300,320,340,360,380,400], "labelExpr": "datum.value % 200 === 0 ? '' + datum.value : ''", "labelFontSize": {"condition": {"test": "datum.value % 200 === 0", "value": 26}, "value": 0}, "labelPadding": 8, "title": "time [s]", "titlePadding": -3}},
    "y": {"field": "v", "type": "quantitative", "scale": {"domain": [-30, 30], "nice": false, "zero": false},
      "axis": {"orient": "left", "values": [-30,-28,-26,-24,-22,-20,-18,-16,-14,-12,-10,-8,-6,-4,-2,0,2,4,6,8,10,12,14,16,18,20,22,24,26,28,30], "labelExpr": "datum.value % 20 === 0 && abs(datum.value) < 30 ? '' + datum.value : ''", "labelFontSize": {"condition": {"test": "datum.value % 20 === 0 && abs(datum.value) < 30", "value": 26}, "value": 0}, "labelPadding": 6, "title": "ϕ [deg]", "titlePadding": 3}},
    "color": {"field": "s", "type": "nominal",
      "scale": {"domain": ["Lamp","CFDShip-Iowa","Fredyn","EFD","ISIS-CFD","SurSim","FreSim","Swan2"], "range": ["#000000","#a00000","#009a00","#0000ff","#8e1a8e","#ff0000","#5c9dff","#9d8aff"]},
      "legend": {"orient": "none", "legendX": 398, "legendY": 322, "title": null, "columns": 2, "columnPadding": 13, "rowPadding": 0, "padding": 0, "labelFont": "Liberation Serif", "labelFontSize": 18.6, "labelOffset": 0, "symbolSize": 0, "symbolStrokeWidth": 0, "symbolOpacity": 0, "labelLimit": 300, "encode": {"labels": {"update": {"fill": {"scale": "color", "field": "value"}}}}}}
   }},
  {"transform": [{"filter": "datum.s === 'Lamp'"}], "mark": {"type": "line", "opacity": 0},
   "encoding": {
    "x": {"field": "t", "type": "quantitative", "scale": {"domain": [0, 400], "nice": false, "zero": false},
      "axis": {"orient": "top", "values": [0,20,40,60,80,100,120,140,160,180,200,220,240,260,280,300,320,340,360,380,400], "labels": false, "title": null}},
    "y": {"field": "v", "type": "quantitative", "scale": {"domain": [-30, 30], "nice": false, "zero": false},
      "axis": {"orient": "right", "values": [-30,-28,-26,-24,-22,-20,-18,-16,-14,-12,-10,-8,-6,-4,-2,0,2,4,6,8,10,12,14,16,18,20,22,24,26,28,30], "labels": false, "title": null}}
   }}
 ],
 "resolve": {"axis": {"x": "independent", "y": "independent"}}
}
]
}
